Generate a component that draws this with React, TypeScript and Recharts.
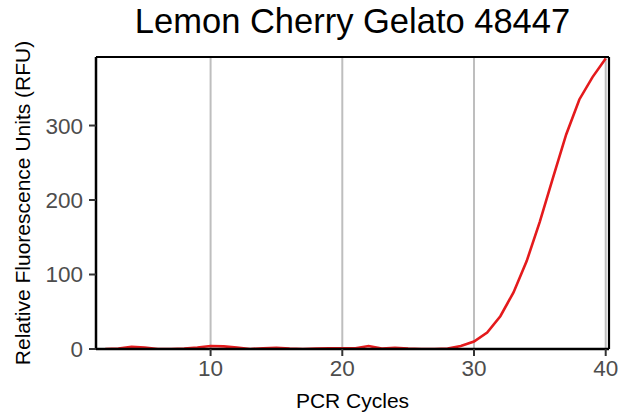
import { LineChart, Line, XAxis, YAxis, CartesianGrid, ReferenceLine, Label } from 'recharts'

const cycles = [
  2, 3, 4, 5, 6, 7, 8, 9, 10, 11, 12, 13, 14, 15, 16, 17, 18, 19, 20, 21,
  22, 23, 24, 25, 26, 27, 28, 29, 30, 31, 32, 33, 34, 35, 36, 37, 38, 39, 40,
]
const rfu = [
  0, 0.5, 3, 2, 0, 0, 0.5, 2, 4, 3.5, 2, 0, 1, 1.5, 0.5, 0, 0.5, 1, 1, 1,
  4, 0.5, 1.5, 0.5, 0, 0, 0.5, 4, 10, 22, 44, 76, 118, 171, 230, 288, 335, 365, 390,
]
const xTicks = [10, 20, 30, 40]
const yTicks = [0, 100, 200, 300]

const X_DOMAIN: [number, number] = [1.3, 40.25]
const Y_DOMAIN: [number, number] = [0, 392]

const FONT = '"Liberation Sans", Arial, Helvetica, sans-serif'

const data = cycles.map((c, i) => ({ cycle: c, rfu: rfu[i] }))

export default function App() {
  return (
    <div style={{ position: 'absolute', left: 0, top: 0, width: 628, height: 415, background: '#fff', fontFamily: FONT }}>
      <div
        style={{
          position: 'absolute', left: 96, top: 4, width: 513, textAlign: 'center',
          fontSize: 34.5, lineHeight: '34px', color: '#000',
        }}
      >
        Lemon Cherry Gelato 48447
      </div>
      <LineChart width={628} height={415} data={data} margin={{ top: 57, right: 19, bottom: 0, left: 0 }}>
        <CartesianGrid horizontal={false} stroke="#bebebe" strokeWidth={2} />
        <XAxis
          dataKey="cycle"
          type="number"
          domain={X_DOMAIN}
          ticks={xTicks}
          allowDataOverflow
          height={66}
          stroke="#000"
          strokeWidth={2.5}
          tickSize={7}
          tickMargin={4}
          tickLine={{ stroke: '#333', strokeWidth: 2 }}
          tick={{ fill: '#4d4d4d', fontSize: 22.5, fontFamily: FONT }}
        >
          <Label
            content={() => (
              <text x={352.5} y={408} textAnchor="middle" fontSize={21} fontFamily={FONT} fill="#000">
                PCR Cycles
              </text>
            )}
          />
        </XAxis>
        <YAxis
          type="number"
          domain={Y_DOMAIN}
          ticks={yTicks}
          allowDataOverflow
          width={96}
          stroke="#000"
          strokeWidth={2.5}
          tickSize={7}
          tickMargin={6}
          tickLine={{ stroke: '#333', strokeWidth: 2 }}
          tick={{ fill: '#4d4d4d', fontSize: 22.5, fontFamily: FONT }}
        >
          <Label
            content={() => (
              <text
                x={30}
                y={203}
                textAnchor="middle"
                fontSize={21}
                fontFamily={FONT}
                fill="#000"
                transform="rotate(-90, 30, 203)"
              >
                Relative Fluorescence Units (RFU)
              </text>
            )}
          />
        </YAxis>
        <ReferenceLine y={Y_DOMAIN[1]} stroke="#000" strokeWidth={2.2} />
        <ReferenceLine x={X_DOMAIN[1]} stroke="#000" strokeWidth={2.2} />
        <Line
          type="linear"
          dataKey="rfu"
          stroke="#e41a1c"
          strokeWidth={2.6}
          dot={false}
          isAnimationActive={false}
        />
      </LineChart>
    </div>
  )
}
